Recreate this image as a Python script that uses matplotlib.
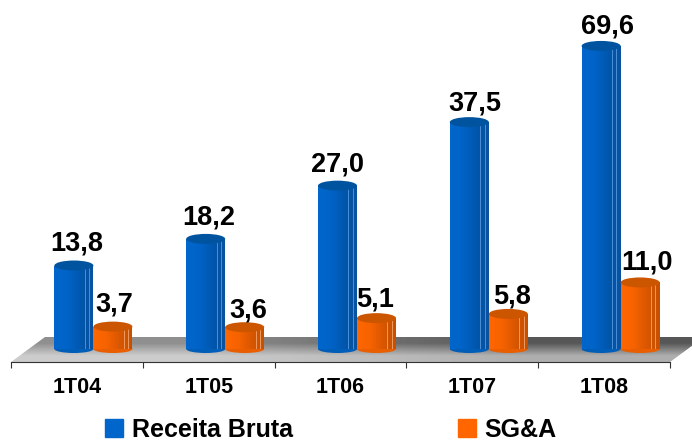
import numpy as np
import matplotlib
matplotlib.use("Agg")
import matplotlib.pyplot as plt
from matplotlib.colors import LinearSegmentedColormap
from matplotlib.patches import Ellipse, Patch, Polygon
from matplotlib.transforms import IdentityTransform

categories = ["1T04", "1T05", "1T06", "1T07", "1T08"]
receita = [13.8, 18.2, 27.0, 37.5, 69.6]
sga = [3.7, 3.6, 5.1, 5.8, 11.0]
series_names = ["Receita Bruta", "SG&A"]

W, H = 692, 443
plt.rcParams["font.family"] = ["Liberation Sans", "DejaVu Sans"]
fig = plt.figure(figsize=(W / 100, H / 100), dpi=100, facecolor="white")


def box(l, t, r, b):
    return [l / W, 1 - b / H, (r - l) / W, (b - t) / H]


# floor of the 3D scene, in pixel coordinates
bg = fig.add_axes([0, 0, 1, 1], zorder=0)
bg.set_xlim(0, W)
bg.set_ylim(H, 0)
bg.axis("off")
floor = Polygon([(11, 362), (45, 337), (704, 337), (670, 362)],
                closed=True, transform=bg.transData, fc="none", ec="none")
bg.add_patch(floor)
img = bg.imshow([[0.56, 0.34], [0.80, 0.68]], cmap="gray", vmin=0, vmax=1,
                extent=(11, 704, 362, 337), aspect="auto", interpolation="bilinear")
img.set_clip_path(floor)
bg.set_xlim(0, W)
bg.set_ylim(H, 0)

# the tallest bar is drawn compressed in the reference: the scale bends above 40
BREAK, K = 40.0, 0.341


def fwd(v):
    v = np.asarray(v, float)
    return np.where(v <= BREAK, v, BREAK + (v - BREAK) * K)


def inv(u):
    u = np.asarray(u, float)
    return np.where(u <= BREAK, u, BREAK + (u - BREAK) / K)


ax = fig.add_axes(box(27.5, 0, 686.5, 349), zorder=2)
ax.patch.set_alpha(0)
ax.set_yscale("function", functions=(fwd, inv))
ax.set_xlim(0, 5)
ax.set_ylim(0, float(inv(349 / 6.05)))
ax.axis("off")

BW = 39 / 131.8
STYLES = [
    dict(cmap=LinearSegmentedColormap.from_list("b", [(0, "#0066CC"), (0.35, "#0062C6"), (0.72, "#0055AA"), (1, "#0A52A0")]),
         top="#00549F", base="#005DB8", line="#4C8FD6", edge="#004F9E"),
    dict(cmap=LinearSegmentedColormap.from_list("o", [(0, "#FF6600"), (0.35, "#F56200"), (0.72, "#D55500"), (1, "#C65000")]),
         top="#CC5500", base="#E85E00", line="#EE9A60", edge="#C25000"),
]
LABEL_OFFSETS = [
    [(3, 22), (3, 21), (0, 21), (6, 19), (6, 19)],
    [(1, 22), (4, 17), (-1, 19), (4, 17), (7, 20)],
]
grad = np.linspace(0, 1, 48)[None, :]
for s, (vals, st) in enumerate(zip([receita, sga], STYLES)):
    z = 3 + s * 3
    for i, v in enumerate(vals):
        xc = i + 0.5 + (s - 0.5) * BW
        x0 = xc - BW / 2
        edges = np.linspace(x0, x0 + BW, 49)
        ax.bar(xc, v, BW, color=st["base"], zorder=z)
        ax.pcolormesh(edges, [0, v], grad, cmap=st["cmap"], vmin=0, vmax=1,
                      zorder=z + 0.1, shading="flat", rasterized=False)
        for f in (0.78, 0.89):
            ax.plot([x0 + f * BW] * 2, [0, v], color=st["line"], lw=0.7, zorder=z + 0.2)
        bx, by = ax.transData.transform((xc, 0))
        tx, ty = ax.transData.transform((xc, v))
        wpx = BW * 131.8
        ax.add_patch(Ellipse((bx, by), wpx, 8, transform=IdentityTransform(),
                             fc=st["base"], ec="none", zorder=z - 0.1, clip_on=False))
        ax.add_patch(Ellipse((tx, ty), wpx, 10, transform=IdentityTransform(),
                             fc=st["top"], ec="none", zorder=z + 0.3, clip_on=False))
        dx, dy = LABEL_OFFSETS[s][i]
        ax.annotate(f"{v:.1f}".replace(".", ","), (xc, v),
                    xytext=(dx * 0.72, dy * 0.72), textcoords="offset points",
                    ha="center", va="center", fontsize=19.5, fontweight="bold",
                    color="black", zorder=10, annotation_clip=False)

# category axis at the front edge of the floor
xa = fig.add_axes(box(11, 352, 670, 362), zorder=1)
xa.patch.set_alpha(0)
for side in ("top", "left", "right"):
    xa.spines[side].set_visible(False)
xa.spines["bottom"].set_color("#333333")
xa.spines["bottom"].set_linewidth(0.8)
xa.set_xlim(0, 5)
xa.set_yticks([])
xa.set_xticks(np.arange(6))
xa.set_xticklabels([])
xa.set_xticks(np.arange(5) + 0.5, minor=True)
xa.set_xticklabels(categories, minor=True, fontsize=15.5, fontweight="bold")
xa.tick_params(axis="x", which="major", length=4, width=0.8, color="#333333")
xa.tick_params(axis="x", which="minor", length=0, pad=11)

handles = [Patch(color="#0066CC"), Patch(color="#FF6600")]
fig.legend(handles, series_names, loc="lower left", bbox_to_anchor=(105 / W, 1 / H),
           ncol=2, frameon=False, handlelength=0.72, handleheight=0.72,
           handletextpad=0.35, columnspacing=6.6, borderaxespad=0, borderpad=0,
           prop=dict(family="Liberation Sans", weight="bold", size=18))

fig.savefig("out.png", dpi=100)
